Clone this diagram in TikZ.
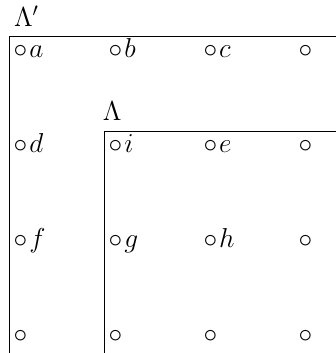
\documentclass[tikz,border=0pt]{standalone}
\usepackage{amsmath,amssymb}
\usetikzlibrary{positioning,calc}

\begin{document}
\begin{tikzpicture}[x=1pt, y=1pt, every node/.style={inner sep=0pt, font=\Large}, site/.style={anchor=base west}]
  \useasboundingbox (-5,18.9) rectangle (171.8,-166.9);
  \coordinate (outer) at (0,0);
  \coordinate (inner) at (50,-50);
  % the two regions
  \draw (outer -| 171.8,0) -- (outer) -- (outer |- 0,-166.9);
  \draw (inner -| 171.8,0) -- (inner) -- (inner |- 0,-166.9);
  \node[anchor=base west] (lamp) at (2.2,5.0) {$\Lambda'$};
  \node[anchor=base west] (lam) at (49.0,5.4-50) {$\Lambda$};
  % sites
  \foreach \r/\c/\l in {0/0/a, 0/1/b, 0/2/c, 0/3/, 1/0/d, 1/1/i, 1/2/e, 1/3/,
                        2/0/f, 2/1/g, 2/2/h, 2/3/, 3/0/, 3/1/, 3/2/, 3/3/}
    \node[site] (s\r\c) at (2.0+50*\c,-11.5-50*\r) {$\circ$\kern1pt$\l$};
\end{tikzpicture}
\end{document}
